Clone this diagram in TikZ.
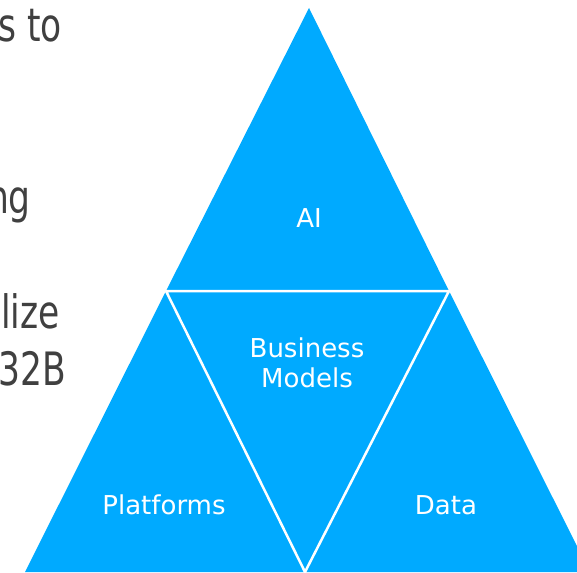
\documentclass[tikz,border=0pt]{standalone}
\usepackage{fontspec}
\setmainfont{DejaVu Sans}
\newfontfamily\narrowfont[FakeStretch=0.75]{DejaVu Sans}
\definecolor{pyramidblue}{HTML}{00AAFF}
\definecolor{bodygray}{HTML}{404040}

\begin{document}
\begin{tikzpicture}[x=1pt,y=-1pt,
  piece/.style={fill=pyramidblue},
  seam/.style={draw=white,line width=2.5pt},
  label/.style={text=white,font=\fontsize{26}{30}\selectfont,align=center,inner sep=0pt},
  bodytext/.style={text=bodygray,font=\narrowfont\fontsize{46}{55}\selectfont,anchor=base east,inner sep=0pt}]

\clip (0,0) rectangle (577,572);

\coordinate (top) at (309,8);
\coordinate (midl) at (166,291);
\coordinate (midr) at (449,291);
\coordinate (botl) at (25,572);
\coordinate (botm) at (305,572);
\coordinate (botr) at (590,572);

\fill[piece] (top) -- (midl) -- (botl) -- (botr) -- (midr) -- cycle;
\draw[seam] (midl) -- (midr) -- (botm) -- cycle;

\node[label] (ai) at (309,218) {AI};
\node[label] (models) at (307,363) {Business\\Models};
\node[label] (platforms) at (164,505) {Platforms};
\node[label] (data) at (446,505) {Data};

\node[bodytext] (lineA) at (62,42) {s to};
\node[bodytext] (lineB) at (31,213) {ng};
\node[bodytext] (lineC) at (60,328) {lize};
\node[bodytext] (lineD) at (66,385) {32B};

\end{tikzpicture}
\end{document}
